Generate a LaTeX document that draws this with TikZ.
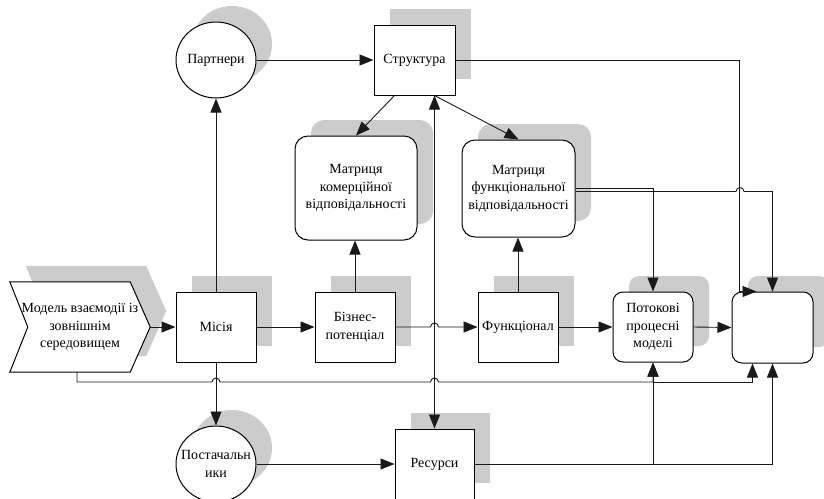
\documentclass[tikz,border=0pt]{standalone}
\usepackage{fontspec}
\setmainfont{Liberation Serif}
\usetikzlibrary{arrows.meta,shapes.geometric,shadows}
\begin{document}
\begin{tikzpicture}[x=1pt,y=-1pt,
  font=\fontsize{14}{17.5}\selectfont,
  shd/.style={general shadow={shadow xshift=16pt,shadow yshift=16pt,fill=black!20}},
  box/.style={draw,line width=1pt,fill=white,align=center,inner sep=1pt,shd,minimum width=80pt,minimum height=70pt},
  rbox/.style={box,rounded corners=10pt},
  ell/.style={ellipse,draw,line width=1pt,fill=white,minimum width=80pt,minimum height=76pt,inner sep=0pt,shd},
  arr/.style={-{Triangle[length=14pt,width=11pt]},line width=0.9pt,draw=black!90},
  darr/.style={{Triangle[length=14pt,width=11pt]}-{Triangle[length=14pt,width=11pt]},line width=0.9pt,draw=black!90}]
\useasboundingbox (0,0) rectangle (824,498);

% chevron
\node[minimum width=140pt,minimum height=90pt,inner sep=0pt] (chev) at (80,327) {};
\draw[line width=1pt,fill=white,shd] (chev.north west) -- ([xshift=-20pt]chev.north east) -- (chev.east)
  -- ([xshift=-20pt]chev.south east) -- (chev.south west) -- ([xshift=18pt]chev.west) -- cycle;
\node[align=center] (chevT) at (chev) {Модель взаємодії із\\зовнішнім\\середовищем};

% nodes
\node[box] (miss) at (216,327) {Місія};
\node[box] (biz) at (355,327) {Бізнес-\\потенціал};
\node[box] (func) at (518,327) {Функціонал};
\node[rbox] (flow) at (653,327) {Потокові\\процесні\\моделі};
\node[rbox,minimum width=81pt,minimum height=71pt] (empty) at (772.5,327.5) {};
\node[box,minimum width=81pt] (struct) at (414.5,60) {Структура};
\node[rbox,rounded corners=13pt,minimum width=122pt,minimum height=104pt] (mcom) at (356,188) {Матриця\\комерційної\\відповідальності};
\node[rbox,rounded corners=13pt,minimum width=113pt,minimum height=97pt] (mfun) at (518.5,188.5) {Матриця\\функціональної\\відповідальності};
\node[box,minimum width=79pt] (res) at (434.5,464) {Ресурси};
\node[ell] (partn) at (216,60) {};
\node (partnT) at (partn) {Партнери};
\node[ell] (supp) at (216,464) {};
\node[align=center] (suppT) at (supp) {Постачальн\\ики};

% connectors
\draw[arr] (chev.east) -- (miss.west);
\draw[arr] (miss.east) -- (biz.west);
\draw[arr] (biz.east) -- (430.5,327) arc[start angle=180,end angle=0,radius=4pt] -- (func.west);
\draw[arr] (func.east) -- (flow.west);
\draw[arr] (flow.east) -- (empty.west);
\draw[arr] (miss.north) -- (partn.south);
\draw[arr] (partn.east) -- (struct.west);
\draw[arr] ([xshift=-20pt]struct.south) -- (mcom.north);
\draw[arr] ([xshift=20pt]struct.south) -- (mfun.north);
\draw[darr] (res.north) -- (res.north |- struct.south);
\draw[arr] (biz.north) -- (biz.north |- mcom.south);
\draw[arr] (func.north) -- (func.north |- mfun.south);
\draw[arr] (struct.east) -| ([xshift=8pt]empty.north west) -- ([xshift=25pt]empty.north west);
\draw[arr] (mfun.east) -| (flow.north);
\draw[arr] ([yshift=-3pt]mfun.east) -- (736,191.5) arc[start angle=180,end angle=0,radius=4pt] -| (empty.north);
\draw[arr] ([xshift=-3pt]chev.south) |- (212,382) arc[start angle=180,end angle=0,radius=4pt]
  -- (430.5,382) arc[start angle=180,end angle=0,radius=4pt] -| (flow.south);
\draw[arr] ([yshift=-20pt]flow.south) -| ([xshift=-20pt]empty.south);
\draw[arr] (res.east) -| (flow.south);
\draw[arr] (res.east) -| (empty.south);
\draw[arr] (miss.south) -- (supp.north);
\draw[arr] (supp.east) -- (res.west);
\end{tikzpicture}
\end{document}
